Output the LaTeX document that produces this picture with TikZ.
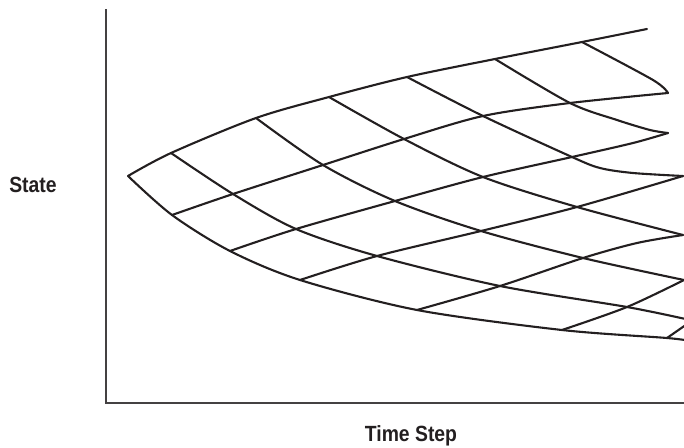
\documentclass[tikz,border=0pt]{standalone}
\usepackage{fontspec}
\setsansfont[FakeStretch=0.88]{Liberation Sans}
\usepackage{xcolor}
\definecolor{ink}{HTML}{231F20}

\begin{document}
\begin{tikzpicture}[x=1pt, y=-1pt, line width=2.1pt, ink,
  font=\sffamily\bfseries\fontsize{22}{26}\selectfont,
  mesh/.style={line cap=round, line join=round},
  axis/.style={ink!85, line width=1.8pt}]
  \useasboundingbox (0,0) rectangle (684,447);
  % axes
  \draw[axis] (106,9) -- (106,403) -- (684,403);
  % labels
  \node[anchor=base] (state) at (33,192.5) {State};
  \node[anchor=base] (timestep) at (411,441) {Time Step};
  % lattice, up-going lines
  \begin{scope}
  \clip (0,0) rectangle (684,447);
  \draw[mesh] plot[smooth, tension=0.5] coordinates {(128,176) (171,153) (256,118) (329,97) (407,77) (495,59) (582,42) (647,29)};
  \draw[mesh] plot[smooth, tension=0.5] coordinates {(172,215) (233,194) (323,165) (404,139) (483,116) (570,103) (668,93)};
  \draw[mesh] plot[smooth, tension=0.5] coordinates {(230,251) (296,229) (395,201) (483,177) (572,157) (633,143) (668,133)};
  \draw[mesh] plot[smooth, tension=0.5] coordinates {(300,280) (377,256) (481,231) (577,207) (683,176)};
  \draw[mesh] plot[smooth, tension=0.5] coordinates {(417,310) (500,286) (583,258) (637,243) (683,235)};
  \draw[mesh] plot[smooth, tension=0.5] coordinates {(562,330) (627,307) (684,280)};
  \draw[mesh] plot[smooth, tension=0.5] coordinates {(667,338) (690,322)};
  % lattice, down-going lines
  \draw[mesh] plot[smooth, tension=0.5] coordinates {(128,176) (172,215) (230,251) (300,280) (417,310) (562,330) (667,338) (690,341)};
  \draw[mesh] plot[smooth, tension=0.5] coordinates {(171,153) (233,194) (296,229) (377,256) (500,286) (627,307) (690,320)};
  \draw[mesh] plot[smooth, tension=0.5] coordinates {(256,118) (323,165) (395,201) (481,231) (583,258) (684,280)};
  \draw[mesh] plot[smooth, tension=0.5] coordinates {(329,97) (404,139) (483,177) (577,207) (683,235)};
  \draw[mesh] plot[smooth, tension=0.5] coordinates {(407,77) (483,116) (572,157) (600,168) (633,173) (683,176)};
  \draw[mesh] plot[smooth, tension=0.5] coordinates {(495,59) (570,103) (617,120) (650,130) (668,133)};
  \draw[mesh] plot[smooth, tension=0.5] coordinates {(582,42) (653,80) (668,93)};
  \end{scope}
\end{tikzpicture}
\end{document}
